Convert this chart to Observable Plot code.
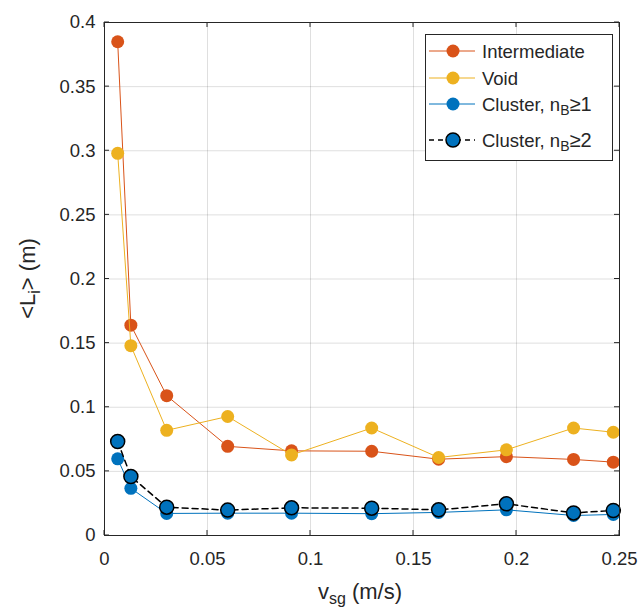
<!DOCTYPE html>
<html>
<head>
<meta charset="utf-8">
<script src="https://cdn.jsdelivr.net/npm/d3@7"></script>
<script src="https://cdn.jsdelivr.net/npm/@observablehq/plot@0.6"></script>
<style>
  body { margin: 0; background: #fff; }
  #wrap { position: relative; width: 643px; height: 613px; font-family: "Liberation Sans", Arial, sans-serif; }
  #legend { position: absolute; left: 425px; top: 34px; }
</style>
</head>
<body>
<div id="wrap"></div>
<script>
const vsg = [0.0064, 0.0128, 0.0302, 0.0598, 0.0908, 0.1297, 0.1622, 0.1951, 0.2277, 0.2470];
const intermediate = [0.385, 0.164, 0.109, 0.0695, 0.066, 0.0657, 0.0595, 0.0615, 0.0593, 0.0572];
const voidVals = [0.298, 0.148, 0.082, 0.0928, 0.0628, 0.0838, 0.0608, 0.0668, 0.0838, 0.0805];
const cluster1 = [0.0598, 0.0368, 0.0172, 0.0174, 0.0174, 0.0170, 0.0180, 0.0200, 0.0156, 0.0164];
const cluster2 = [0.0733, 0.0460, 0.0221, 0.0198, 0.0216, 0.0213, 0.0200, 0.0247, 0.0176, 0.0195];
const xTicks = [0, 0.05, 0.1, 0.15, 0.2, 0.25];
const yTicks = [0, 0.05, 0.1, 0.15, 0.2, 0.25, 0.3, 0.35, 0.4];
const colors = {intermediate: "#D95319", void: "#EDB120", cluster: "#0072BD"};

const toRows = (ys) => vsg.map((x, i) => ({x, y: ys[i]}));
const rI = toRows(intermediate), rV = toRows(voidVals), rC1 = toRows(cluster1), rC2 = toRows(cluster2);
const ink = "#262626";
const fmt = d => String(+d.toFixed(4));

const chart = Plot.plot({
  width: 643, height: 613,
  marginLeft: 104, marginRight: 24, marginTop: 22, marginBottom: 78,
  style: {fontFamily: "Liberation Sans, Arial, sans-serif", fontSize: "18px", color: ink, background: "white"},
  x: {domain: [0, 0.25], ticks: xTicks},
  y: {domain: [0, 0.4], ticks: yTicks},
  marks: [
    Plot.gridX(xTicks, {stroke: ink, strokeOpacity: 0.15}),
    Plot.gridY(yTicks, {stroke: ink, strokeOpacity: 0.15}),
    Plot.axisX(xTicks, {anchor: "bottom", tickSize: 0, tickPadding: 16, label: null, fontSize: 18.5, fill: ink, tickFormat: fmt}),
    Plot.axisY(yTicks, {anchor: "left", tickSize: 0, tickPadding: 9, label: null, fontSize: 18.5, fill: ink, tickFormat: fmt}),
    Plot.line(rI, {x: "x", y: "y", stroke: colors.intermediate, strokeWidth: 1}),
    Plot.dot(rI, {x: "x", y: "y", r: 6.5, fill: colors.intermediate}),
    Plot.line(rV, {x: "x", y: "y", stroke: colors.void, strokeWidth: 1}),
    Plot.dot(rV, {x: "x", y: "y", r: 6.5, fill: colors.void}),
    Plot.line(rC1, {x: "x", y: "y", stroke: colors.cluster, strokeWidth: 1}),
    Plot.dot(rC1, {x: "x", y: "y", r: 6.5, fill: colors.cluster}),
    Plot.line(rC2, {x: "x", y: "y", stroke: "black", strokeWidth: 1.5, strokeDasharray: "6,4"}),
    Plot.dot(rC2, {x: "x", y: "y", r: 7, fill: colors.cluster, stroke: "black", strokeWidth: 1.5}),
    Plot.frame({stroke: ink, strokeWidth: 1})
  ]
});

const wrap = document.getElementById("wrap");
wrap.appendChild(chart);

// inward tick marks on all four sides, positioned via the chart scales
const svg = d3.select(chart);
const sx = chart.scale("x"), sy = chart.scale("y");
const [x0, x1] = sx.range, [y0, y1] = sy.range; // y0 bottom, y1 top
const tk = svg.append("g").attr("stroke", ink).attr("stroke-width", 1);
xTicks.forEach(v => {
  const px = sx.apply(v);
  tk.append("line").attr("x1", px).attr("x2", px).attr("y1", y0).attr("y2", y0 - 5);
  tk.append("line").attr("x1", px).attr("x2", px).attr("y1", y1).attr("y2", y1 + 5);
});
yTicks.forEach(v => {
  const py = sy.apply(v);
  tk.append("line").attr("y1", py).attr("y2", py).attr("x1", x0).attr("x2", x0 + 5);
  tk.append("line").attr("y1", py).attr("y2", py).attr("x1", x1).attr("x2", x1 - 5);
});

// axis labels with subscripts
const xl = svg.append("text").attr("x", 360).attr("y", 599).attr("text-anchor", "middle")
  .attr("font-size", 22).attr("fill", ink);
xl.append("tspan").text("v");
xl.append("tspan").attr("baseline-shift", "-30%").attr("font-size", 16).text("sg");
xl.append("tspan").text(" (m/s)");

const yl = svg.append("text").attr("transform", `translate(35,${(y0 + y1) / 2}) rotate(-90)`)
  .attr("text-anchor", "middle").attr("font-size", 22).attr("fill", ink);
yl.append("tspan").text("<L");
yl.append("tspan").attr("baseline-shift", "-30%").attr("font-size", 16).text("i");
yl.append("tspan").text("> (m)");

// legend
const entries = [
  {name: "Intermediate", sub: null, color: colors.intermediate, line: colors.intermediate, dash: null, stroke: null, cy: 17},
  {name: "Void", sub: null, color: colors.void, line: colors.void, dash: null, stroke: null, cy: 44},
  {name: "Cluster, n", sub: ["B", "≥1"], color: colors.cluster, line: colors.cluster, dash: null, stroke: null, cy: 70},
  {name: "Cluster, n", sub: ["B", "≥2"], color: colors.cluster, line: "black", dash: "5,4", stroke: "black", cy: 106}
];
const lg = d3.select(wrap).append("svg").attr("id", "legend").attr("width", 188).attr("height", 127)
  .style("font-family", "Liberation Sans, Arial, sans-serif");
lg.append("rect").attr("x", 0.5).attr("y", 0.5).attr("width", 187).attr("height", 126)
  .attr("fill", "white").attr("stroke", ink).attr("stroke-width", 1);
entries.forEach(e => {
  lg.append("line").attr("x1", 4).attr("x2", 50).attr("y1", e.cy).attr("y2", e.cy)
    .attr("stroke", e.line).attr("stroke-width", e.dash ? 1.5 : 1).attr("stroke-dasharray", e.dash);
  lg.append("circle").attr("cx", 28).attr("cy", e.cy).attr("r", e.stroke ? 7 : 6.5)
    .attr("fill", e.color).attr("stroke", e.stroke).attr("stroke-width", 1.5);
  const t = lg.append("text").attr("x", 57).attr("y", e.cy + 6.5).attr("font-size", 18.5).attr("fill", ink);
  t.append("tspan").text(e.name);
  if (e.sub) {
    t.append("tspan").attr("baseline-shift", "-30%").attr("font-size", 14).text(e.sub[0]);
    t.append("tspan").attr("font-size", 20).text(e.sub[1]);
  }
});
</script>
</body>
</html>
